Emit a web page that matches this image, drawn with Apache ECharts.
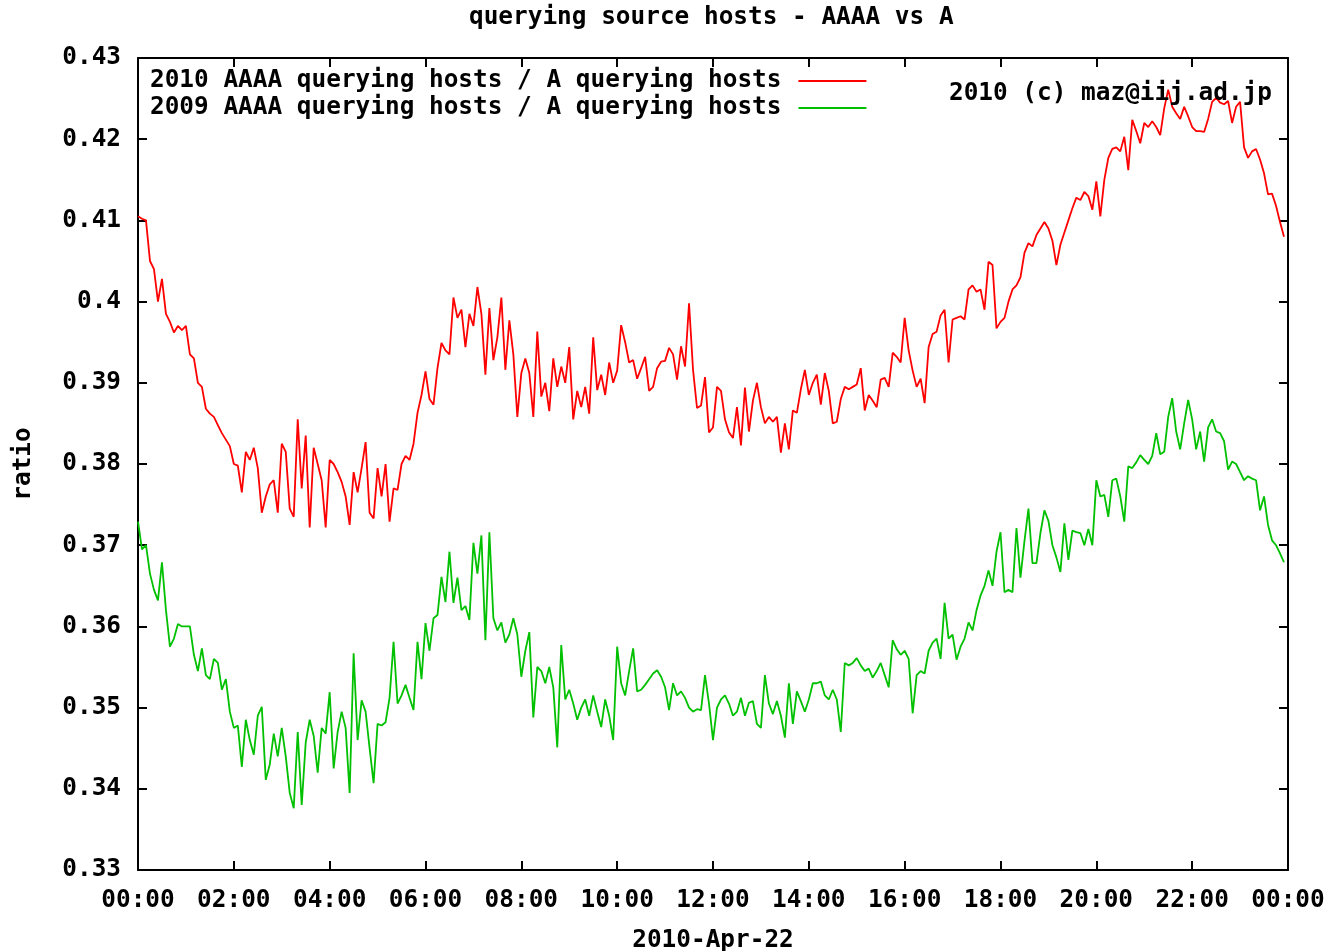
<!DOCTYPE html>
<html>
<head>
<meta charset="utf-8">
<script src="https://cdn.jsdelivr.net/npm/echarts@6/dist/echarts.min.js"></script>
<style>
html,body{margin:0;padding:0;background:#fff;overflow:hidden;}
#chart{width:1328px;height:951px;}
</style>
</head>
<body>
<div id="chart"></div>
<script>
// ---- data (5-minute samples, 2010-Apr-22 00:00 .. 23:55) ----
const titleText = 'querying source hosts - AAAA vs A';
const copyrightText = '2010 (c) maz@iij.ad.jp';
const xAxisTitle = '2010-Apr-22';
const yAxisTitle = 'ratio';
const seriesNames = ['2010 AAAA querying hosts / A querying hosts', '2009 AAAA querying hosts / A querying hosts'];
const stepMinutes = 5;
const xTickLabels = ['00:00','02:00','04:00','06:00','08:00','10:00','12:00','14:00','16:00','18:00','20:00','22:00','00:00'];
const yTickLabels = ['0.33','0.34','0.35','0.36','0.37','0.38','0.39','0.4','0.41','0.42','0.43'];

const ratio2010 = [
0.4105,0.4102,0.4100,0.4050,0.4040,0.4000,0.4028,0.3985,0.3975,0.3962,0.3970,0.3965,
0.3970,0.3935,0.3930,0.3900,0.3895,0.3868,0.3862,0.3858,0.3848,0.3838,0.3830,0.3822,
0.3800,0.3798,0.3765,0.3815,0.3805,0.3820,0.3795,0.3740,0.3760,0.3775,0.3780,0.3740,
0.3825,0.3815,0.3745,0.3735,0.3855,0.3770,0.3835,0.3722,0.3820,0.3800,0.3780,0.3722,
0.3805,0.3800,0.3790,0.3778,0.3760,0.3725,0.3790,0.3765,0.3795,0.3827,0.3740,0.3733,
0.3795,0.3760,0.3800,0.3729,0.3770,0.3768,0.3800,0.3810,0.3805,0.3825,0.3863,0.3885,
0.3914,0.3880,0.3873,0.3918,0.3949,0.3940,0.3935,0.4005,0.3980,0.3990,0.3944,0.3985,
0.3970,0.4018,0.3985,0.3910,0.3992,0.3928,0.3956,0.4005,0.3916,0.3977,0.3935,0.3858,
0.3912,0.3930,0.3912,0.3858,0.3963,0.3883,0.3900,0.3865,0.3930,0.3895,0.3920,0.3900,
0.3944,0.3855,0.3890,0.3870,0.3895,0.3862,0.3956,0.3891,0.3910,0.3885,0.3925,0.3900,
0.3915,0.3971,0.3950,0.3925,0.3928,0.3905,0.3918,0.3932,0.3890,0.3895,0.3918,0.3926,
0.3927,0.3943,0.3935,0.3904,0.3945,0.3920,0.3998,0.3916,0.3869,0.3872,0.3907,0.3839,
0.3845,0.3895,0.3890,0.3855,0.3839,0.3832,0.3870,0.3823,0.3894,0.3840,0.3878,0.3900,
0.3870,0.3850,0.3858,0.3852,0.3858,0.3814,0.3850,0.3818,0.3866,0.3863,0.3892,0.3916,
0.3885,0.3900,0.3910,0.3873,0.3912,0.3890,0.3850,0.3852,0.3880,0.3895,0.3892,0.3895,
0.3898,0.3918,0.3866,0.3885,0.3878,0.3870,0.3904,0.3906,0.3895,0.3937,0.3932,0.3925,
0.3980,0.3940,0.3915,0.3895,0.3905,0.3875,0.3944,0.3960,0.3963,0.3983,0.3990,0.3925,
0.3978,0.3980,0.3982,0.3978,0.4015,0.4020,0.4012,0.4015,0.3990,0.4049,0.4045,0.3967,
0.3975,0.3980,0.4000,0.4015,0.4020,0.4030,0.4060,0.4072,0.4068,0.4082,0.4090,0.4098,
0.4090,0.4075,0.4045,0.4070,0.4085,0.4100,0.4115,0.4128,0.4125,0.4135,0.4130,0.4113,
0.4148,0.4105,0.4150,0.4177,0.4188,0.4190,0.4185,0.4203,0.4162,0.4224,0.4210,0.4195,
0.4220,0.4215,0.4222,0.4215,0.4205,0.4238,0.4261,0.4240,0.4232,0.4225,0.4240,0.4228,
0.4215,0.4210,0.4210,0.4209,0.4225,0.4246,0.4251,0.4245,0.4243,0.4247,0.4220,0.4240,
0.4246,0.4190,0.4177,0.4185,0.4188,0.4175,0.4158,0.4132,0.4133,0.4118,0.4098,0.4080
];

const ratio2009 = [
0.3729,0.3695,0.3700,0.3665,0.3645,0.3632,0.3679,0.3620,0.3575,0.3585,0.3603,0.3600,
0.3600,0.3600,0.3565,0.3545,0.3573,0.3540,0.3535,0.3560,0.3555,0.3522,0.3535,0.3495,
0.3475,0.3478,0.3427,0.3485,0.3460,0.3442,0.3490,0.3501,0.3411,0.3430,0.3468,0.3440,
0.3475,0.3440,0.3395,0.3376,0.3470,0.3380,0.3457,0.3485,0.3465,0.3420,0.3475,0.3468,
0.3519,0.3425,0.3470,0.3495,0.3475,0.3395,0.3567,0.3460,0.3509,0.3495,0.3450,0.3407,
0.3480,0.3478,0.3482,0.3512,0.3581,0.3505,0.3515,0.3528,0.3512,0.3497,0.3581,0.3535,
0.3604,0.3570,0.3610,0.3614,0.3661,0.3630,0.3692,0.3629,0.3660,0.3620,0.3625,0.3608,
0.3703,0.3665,0.3712,0.3583,0.3716,0.3610,0.3595,0.3605,0.3580,0.3590,0.3610,0.3590,
0.3538,0.3570,0.3593,0.3488,0.3550,0.3545,0.3530,0.3550,0.3525,0.3451,0.3577,0.3510,
0.3522,0.3505,0.3485,0.3500,0.3510,0.3490,0.3515,0.3495,0.3476,0.3510,0.3490,0.3460,
0.3575,0.3530,0.3515,0.3545,0.3573,0.3520,0.3522,0.3528,0.3535,0.3542,0.3546,0.3538,
0.3525,0.3497,0.3530,0.3515,0.3520,0.3512,0.3500,0.3495,0.3498,0.3497,0.3540,0.3505,
0.3460,0.3500,0.3510,0.3515,0.3505,0.3490,0.3495,0.3512,0.3490,0.3506,0.3508,0.3480,
0.3475,0.3540,0.3505,0.3492,0.3508,0.3490,0.3463,0.3530,0.3480,0.3520,0.3508,0.3495,
0.3510,0.3530,0.3530,0.3532,0.3515,0.3510,0.3522,0.3510,0.3470,0.3555,0.3552,0.3555,
0.3561,0.3552,0.3545,0.3548,0.3537,0.3545,0.3555,0.3540,0.3525,0.3583,0.3572,0.3565,
0.3570,0.3560,0.3493,0.3540,0.3545,0.3542,0.3570,0.3580,0.3585,0.3560,0.3629,0.3585,
0.3590,0.3559,0.3575,0.3585,0.3605,0.3595,0.3620,0.3638,0.3650,0.3669,0.3650,0.3692,
0.3716,0.3642,0.3645,0.3642,0.3721,0.3660,0.3705,0.3745,0.3678,0.3678,0.3715,0.3743,
0.3730,0.3700,0.3685,0.3667,0.3727,0.3682,0.3718,0.3716,0.3715,0.3700,0.3720,0.3700,
0.3780,0.3760,0.3762,0.3735,0.3780,0.3782,0.3760,0.3729,0.3797,0.3795,0.3802,0.3811,
0.3805,0.3800,0.3810,0.3838,0.3812,0.3815,0.3858,0.3881,0.3840,0.3818,0.3850,0.3879,
0.3855,0.3818,0.3840,0.3803,0.3845,0.3855,0.3840,0.3838,0.3828,0.3793,0.3803,0.3800,
0.3790,0.3780,0.3785,0.3782,0.3780,0.3743,0.3760,0.3725,0.3706,0.3700,0.3690,0.3679
];

// ---- chart ----
const FONT = 'DejaVu Sans Mono';
const FS = 24.4;
const txt = {color:'#000', fontFamily:FONT, fontSize:FS, fontWeight:'bold'};
const toPairs = arr => arr.map((v, i) => [i * stepMinutes, v]);
const xFmt = v => xTickLabels[Math.round(v / 120)] || '';
const yFmt = v => yTickLabels[Math.round((v - 0.33) / 0.01)] || '';

const axisLine = {show:true, onZero:false, lineStyle:{color:'#000', width:2}};
const axisTick = {show:true, inside:true, length:9, lineStyle:{color:'#000', width:2}};

const chart = echarts.init(document.getElementById('chart'), null, {renderer:'canvas'});
chart.setOption({
  animation:false,
  backgroundColor:'#fff',
  title:[
    {text:titleText, left:469, top:6, padding:0, textStyle:txt},
    {text:copyrightText, right:56, top:82, padding:0, textStyle:txt}
  ],
  legend:{
    orient:'vertical', left:150, top:69, padding:0, itemGap:3,
    align:'right', itemWidth:68, itemHeight:2, icon:'rect',
    textStyle:Object.assign({padding:[0,12,0,0]}, txt),
    data:seriesNames
  },
  grid:{left:138, right:40, top:58, bottom:81, containLabel:false, outerBoundsMode:'none'},
  xAxis:[
    {type:'value', position:'bottom', min:0, max:1440, interval:120,
     axisLine, axisTick, splitLine:{show:false},
     axisLabel:Object.assign({formatter:xFmt, margin:19}, txt),
     name:xAxisTitle, nameLocation:'middle', nameGap:59, nameTextStyle:txt},
    {type:'value', position:'top', min:0, max:1440, interval:120,
     axisLine, axisTick, splitLine:{show:false}, axisLabel:{show:false}}
  ],
  yAxis:[
    {type:'value', position:'left', min:0.33, max:0.43, interval:0.01,
     axisLine, axisTick, splitLine:{show:false},
     axisLabel:Object.assign({formatter:yFmt, margin:17}, txt),
     name:yAxisTitle, nameLocation:'middle', nameGap:102, nameTextStyle:txt},
    {type:'value', position:'right', min:0.33, max:0.43, interval:0.01,
     axisLine, axisTick, splitLine:{show:false}, axisLabel:{show:false}}
  ],
  series:[
    {name:seriesNames[0], type:'line', data:toPairs(ratio2010), symbol:'none', showSymbol:false,
     lineStyle:{color:'#ff0000', width:1.8}, itemStyle:{color:'#ff0000'}},
    {name:seriesNames[1], type:'line', data:toPairs(ratio2009), symbol:'none', showSymbol:false,
     lineStyle:{color:'#00c000', width:1.8}, itemStyle:{color:'#00c000'}}
  ]
});
</script>
</body>
</html>
